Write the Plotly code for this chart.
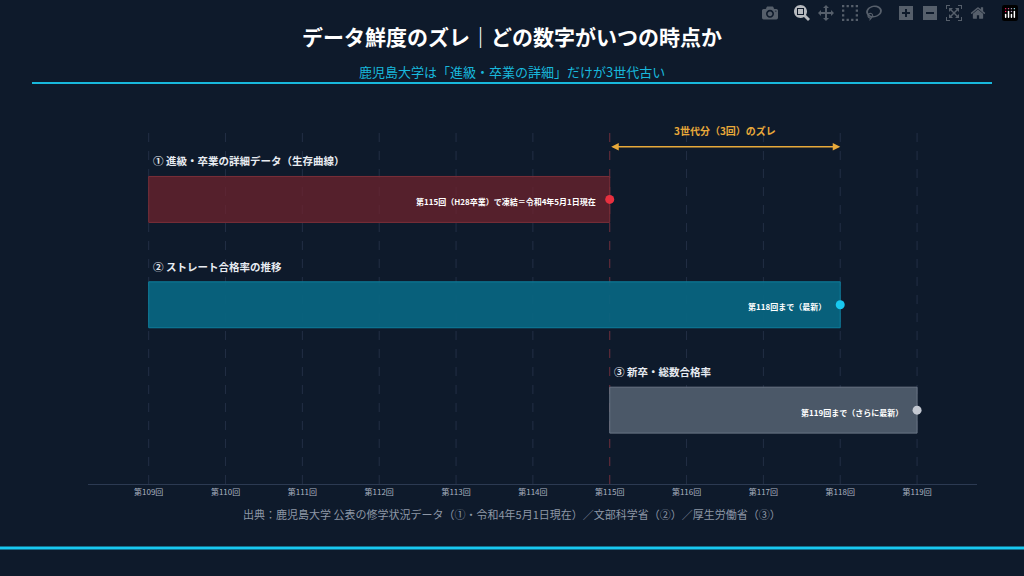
import plotly.graph_objects as go

# data
series_names = ["① 進級・卒業の詳細データ（生存曲線）", "② ストレート合格率の推移", "③ 新卒・総数合格率"]
start_round = [109, 109, 115]
end_round = [115, 118, 119]
end_labels = ["第115回（H28卒業）で凍結＝令和4年5月1日現在", "第118回まで（最新）", "第119回まで（さらに最新）"]
tick_rounds = list(range(109, 120))
tick_labels = [f"第{r}回" for r in tick_rounds]
y_pos = [3, 2, 1]

fills = ["rgba(110,35,45,0.75)", "rgba(8,100,128,0.95)", "rgba(75,88,104,1)"]
edges = ["#7a2e38", "#0e7f9e", "#6b7686"]
dots = ["#e8303f", "#18c8f0", "#c4c9d2"]
bg = "#0e1a2b"


def py(px):
    return (576 - 92 - px) / (576 - 128 - 92)


def pxx(px):
    return (px - 88) / (1024 - 88 - 47)


fig = go.Figure()
for i in range(3):
    fig.add_trace(go.Bar(
        y=[y_pos[i]], x=[end_round[i] - start_round[i]], base=[start_round[i]],
        orientation="h", width=0.436,
        marker=dict(color=fills[i], line=dict(color=edges[i], width=1)),
        hoverinfo="skip", showlegend=False,
    ))
    fig.add_trace(go.Scatter(
        x=[end_round[i]], y=[y_pos[i]], mode="markers",
        marker=dict(color=dots[i], size=9), showlegend=False, hoverinfo="skip",
    ))
    fig.add_annotation(x=end_round[i], y=y_pos[i], text="<b>" + end_labels[i] + "</b>", showarrow=False,
                       xanchor="right", xshift=-12, yshift=-2,
                       font=dict(size=8, color="#ffffff"))
    fig.add_annotation(x=start_round[i], y=y_pos[i] + 0.218, text="<b>" + series_names[i] + "</b>",
                       showarrow=False, xanchor="left", yanchor="bottom", xshift=2, yshift=6,
                       font=dict(size=10.5, color="#e8ecf2"))

# grid lines
for r in tick_rounds:
    fig.add_shape(type="line", x0=r, x1=r, y0=0, y1=1, yref="paper",
                  line=dict(color="#232f45", width=1, dash="dash"), layer="below")
fig.add_shape(type="line", x0=115, x1=115, y0=0, y1=1, yref="paper",
              line=dict(color="#6a2a36", width=1, dash="dash"), layer="below")

# gap arrow
fig.add_annotation(x=118, y=3.5, ax=115, ay=3.5, axref="x", ayref="y", text="",
                   showarrow=True, arrowhead=2, arrowside="end+start", arrowsize=1,
                   arrowwidth=1.5, arrowcolor="#e8a93a")
fig.add_annotation(x=116.5, y=3.5, text="<b>3世代分（3回）のズレ</b>", showarrow=False, yshift=16,
                   font=dict(size=10, color="#e8a93a"))

fig.update_layout(
    paper_bgcolor=bg, plot_bgcolor=bg,
    width=1024, height=576,
    margin=dict(l=88, r=47, t=128, b=92),
    font=dict(family="Noto Sans CJK JP, Noto Sans, sans-serif", color="#cfd6e0"),
    barmode="overlay",
    title=dict(text="<b>データ鮮度のズレ｜どの数字がいつの時点か</b>", x=0.5, y=0.948, xanchor="center",
               font=dict(size=21, color="#ffffff")),
    xaxis=dict(range=[108.21, 119.78], tickvals=tick_rounds, ticktext=tick_labels,
               showgrid=False, zeroline=False, showline=True, linecolor="#2c3a52",
               tickfont=dict(size=8, color="#aab3c0"), ticks=""),
    yaxis=dict(range=[0.299, 3.678], visible=False),
)

fig.add_annotation(x=pxx(512), y=py(60), xref="paper", yref="paper",
                   text="鹿児島大学は「進級・卒業の詳細」だけが3世代古い", showarrow=False,
                   font=dict(size=13, color="#18b8dc"))
fig.add_annotation(x=pxx(512), y=py(524), xref="paper", yref="paper",
                   text="出典：鹿児島大学 公表の修学状況データ（①・令和4年5月1日現在）／文部科学省（②）／厚生労働省（③）",
                   showarrow=False, font=dict(size=11, color="#8d97a6"))
fig.add_shape(type="line", xref="paper", yref="paper", x0=pxx(32), x1=pxx(992), y0=py(83), y1=py(83),
              line=dict(color="#18b8dc", width=2))
fig.add_shape(type="line", xref="paper", yref="paper", x0=pxx(0), x1=pxx(1024), y0=py(548), y1=py(548),
              line=dict(color="#18c8f0", width=3))

fig.write_html("out.html", post_script="document.body.style.margin='0';document.body.style.background='#0e1a2b';")
